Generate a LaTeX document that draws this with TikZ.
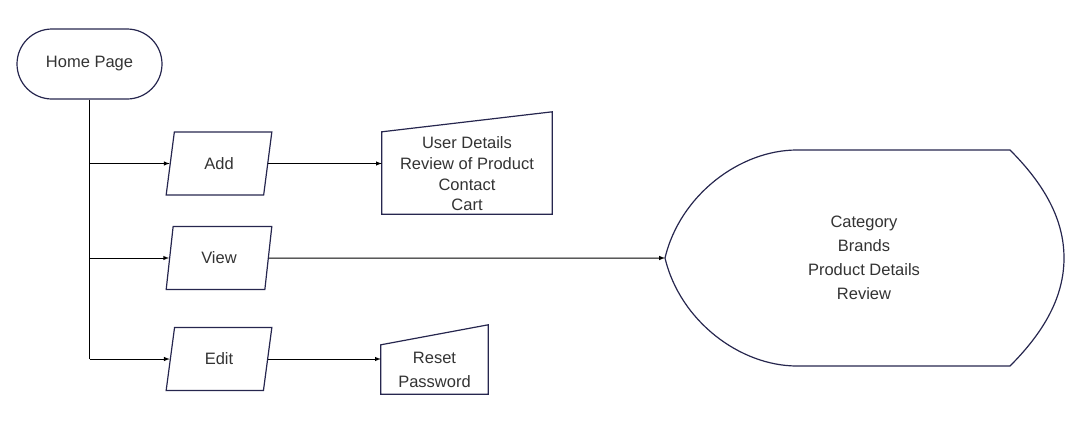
\documentclass[tikz,border=0pt]{standalone}
\usepackage{fontspec}
\setmainfont{Liberation Sans}
\usetikzlibrary{shapes.geometric,arrows}
\definecolor{edgeblue}{RGB}{38,38,78}
\definecolor{labelgray}{RGB}{51,51,51}
\tikzset{
  box/.style={line width=1.2pt, draw=edgeblue},
  txt/.style={text=labelgray, font=\fontsize{16.5}{24}\selectfont, align=center, inner sep=0pt},
  terminal/.style={box, txt, rounded corners=35pt, minimum width=145pt, minimum height=70pt},
  io/.style={box, txt, trapezium, trapezium left angle=77.5, trapezium right angle=102.5,
    trapezium stretches=true, minimum width=106pt, minimum height=63pt},
  link/.style={-latex, line width=1pt}
}
\begin{document}
\begin{tikzpicture}[x=1pt, y=-1pt]
  \useasboundingbox (0,0) rectangle (1082,437);
  \node[terminal] (home) at (89.5,64) {Home Page};
  \node[io] (add) at (219,163.5) {Add};
  \node[io] (view) at (219,258) {View};
  \node[io] (edit) at (219,359) {Edit};
  % manual input boxes
  \node[txt, font=\fontsize{16.5}{20.7}\selectfont, minimum width=170pt, minimum height=80pt] (extras) at (467,174) {User Details\\Review of Product\\Contact\\Cart};
  \draw[box] ([yshift=2pt]extras.north west) -- ([yshift=22pt]extras.north east) -- (extras.south east) -- (extras.south west) -- cycle;
  \node[txt, minimum width=107pt, minimum height=49pt] (reset) at (434.5,369.5) {Reset\\Password};
  \draw[box] (reset.north west) -- ([yshift=20pt]reset.north east) -- (reset.south east) -- (reset.south west) -- cycle;
  % display shape
  \coordinate (tip) at (665,258);
  \node[txt] (catalog) at (864,258) {Category\\Brands\\Product Details\\Review};
  \draw[box] (tip) .. controls (680,195) and (740,150) .. (797,150) -- (1010,150)
    .. controls (1045,185) and (1064,220) .. (1064,258)
    .. controls (1064,296) and (1045,331) .. (1010,366) -- (797,366)
    .. controls (740,366) and (680,321) .. (tip);
  \draw[line width=1pt] (home.south) -- (home.south |- edit.west);
  \draw[link] (home.south |- add.west) -- (add.west);
  \draw[link] (home.south |- view.west) -- (view.west);
  \draw[link] (home.south |- edit.west) -- (edit.west);
  \draw[link] (add.east) -- (add.east -| extras.west);
  \draw[link] (view.east) -- (tip);
  \draw[link] (edit.east) -- (edit.east -| reset.west);
\end{tikzpicture}
\end{document}
